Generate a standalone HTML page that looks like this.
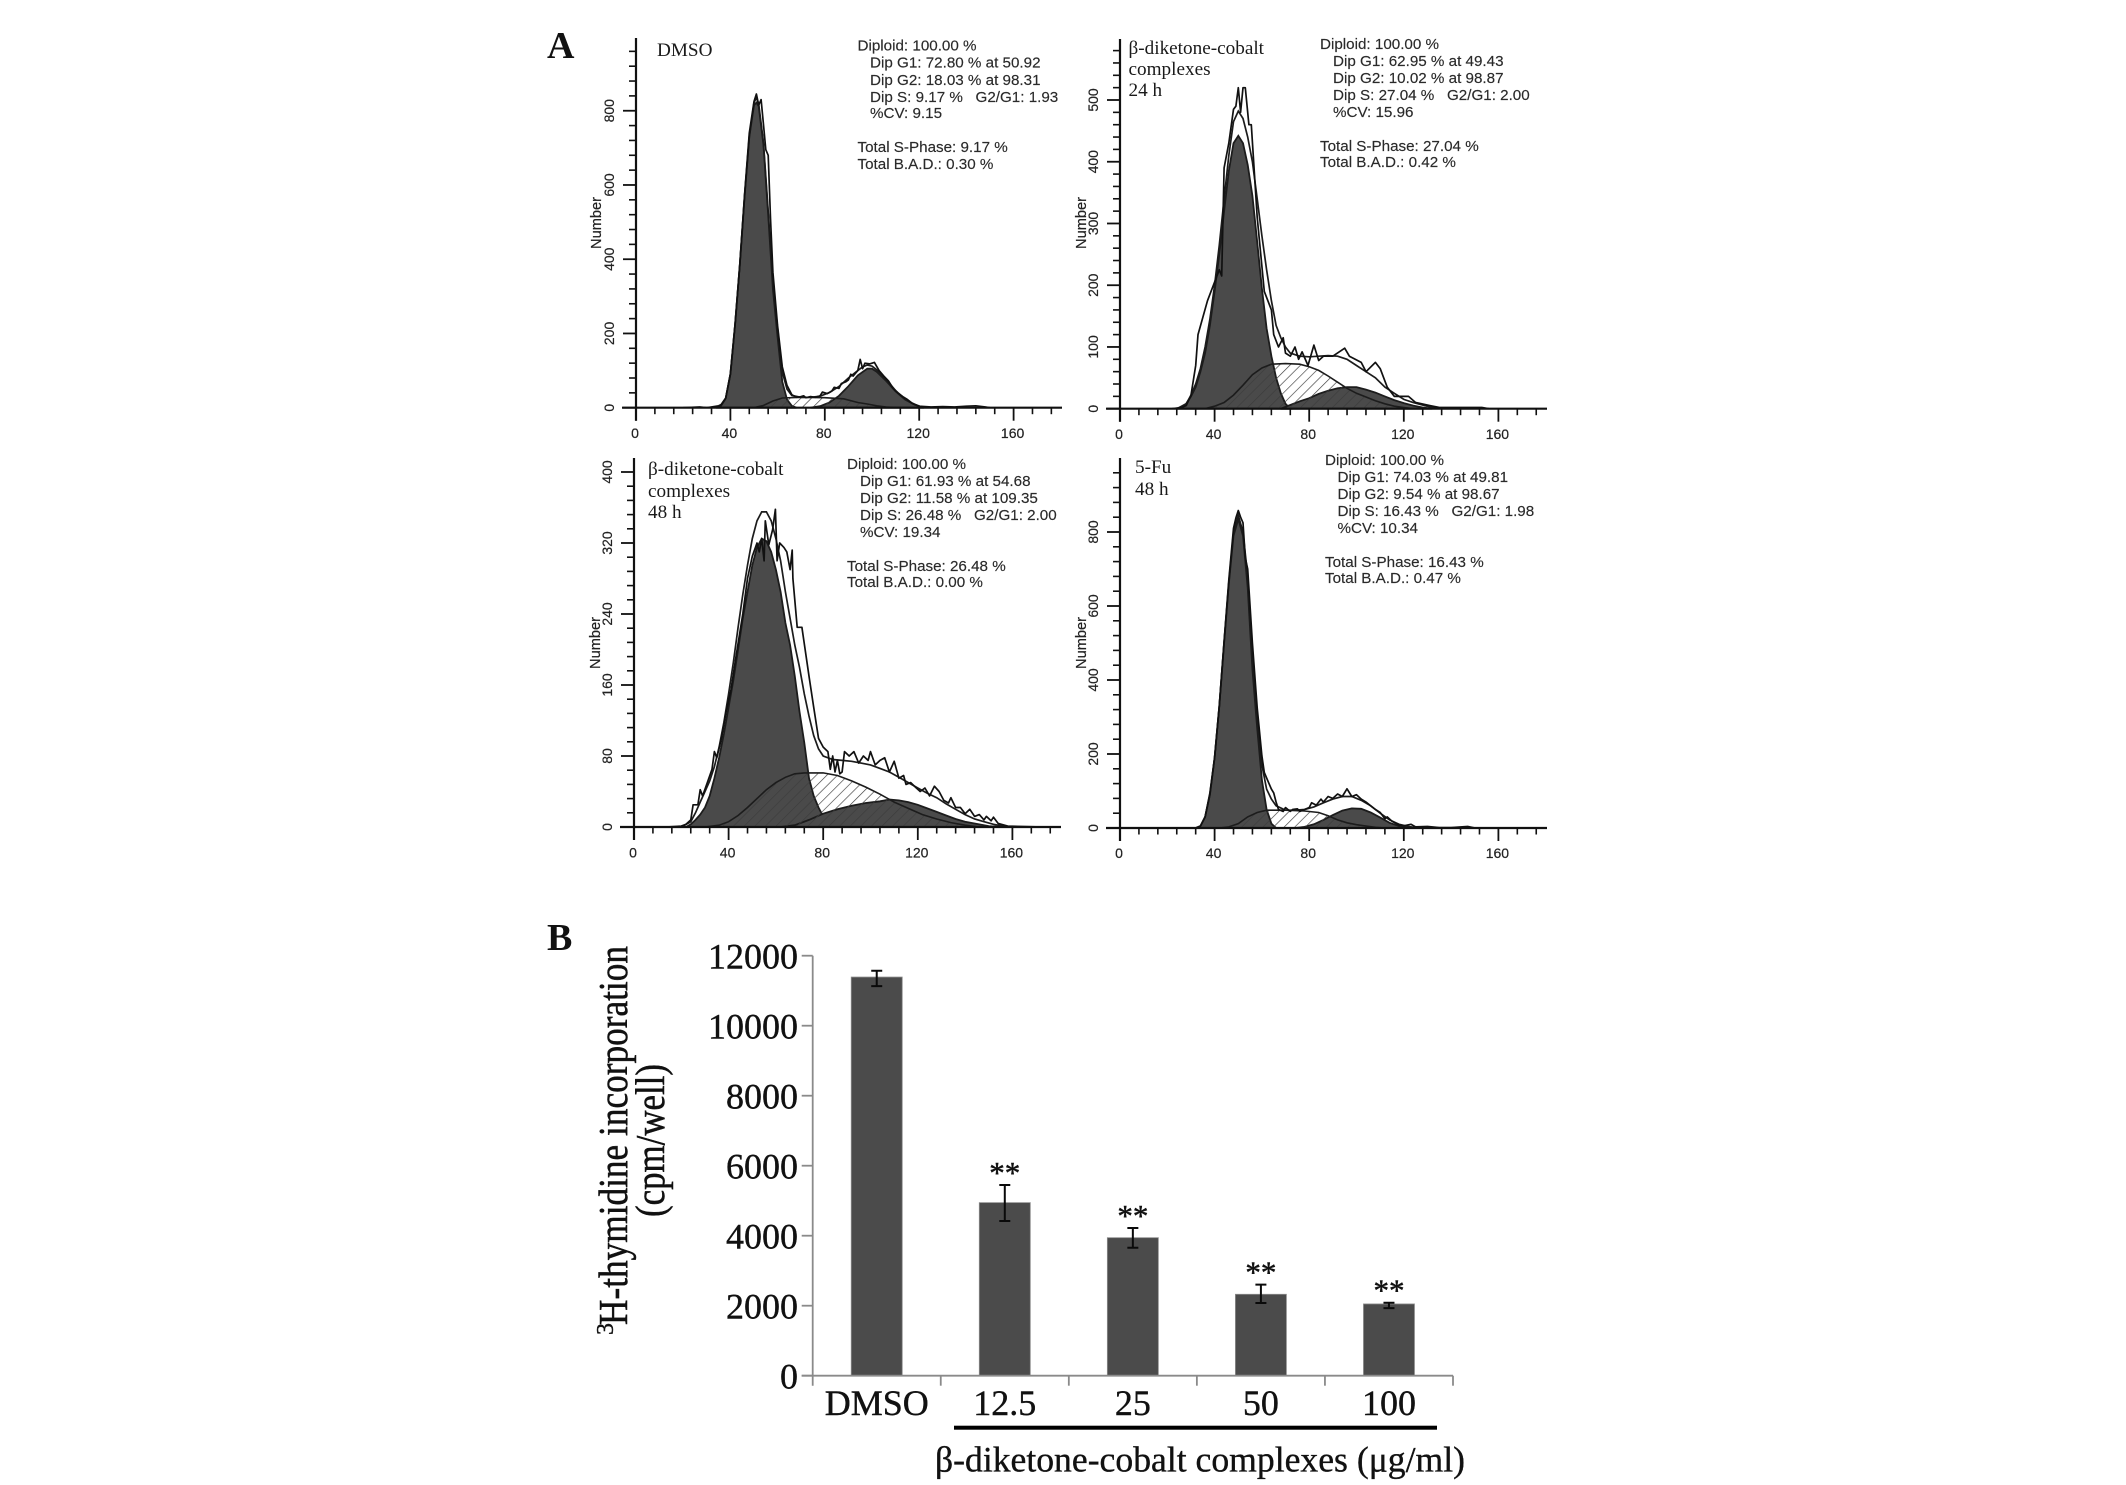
<!DOCTYPE html>
<html lang="en">
<head>
<meta charset="utf-8">
<title>Cell cycle histograms and 3H-thymidine incorporation</title>
<style>
html,body{margin:0;padding:0;background:#fff}
svg{display:block}
.st{font-family:"Liberation Sans",sans-serif;font-size:15.2px;fill:#2a2a2a;stroke:#2a2a2a;stroke-width:0.15}
.ti{font-family:"Liberation Serif",serif;font-size:19.2px;fill:#1a1a1a}
.big{font-family:"Liberation Serif",serif;fill:#111}
</style>
</head>
<body>
<svg id="figure" xmlns="http://www.w3.org/2000/svg" width="2126" height="1485" viewBox="0 0 2126 1485">
  <defs>
    <pattern id="hatch" width="7.5" height="7.5" patternUnits="userSpaceOnUse" patternTransform="rotate(45)">
      <line x1="0" y1="0" x2="0" y2="7.5" stroke="#3c3c3c" stroke-width="1.3"/>
    </pattern>
  </defs>
  <rect x="0" y="0" width="2126" height="1485" fill="#fff"/>

  <text class="big" x="547" y="58" font-size="38" font-weight="bold">A</text>
  <text class="big" x="547" y="950" font-size="38" font-weight="bold">B</text>

  <g id="p1"></g>
  <g id="p2"></g>
  <g id="p3"></g>
  <g id="p4"></g>

  <text class="ti" x="657" y="56">DMSO</text>
  <g class="st">
    <text x="857.5" y="50.5">Diploid: 100.00 %</text>
    <text x="870" y="67.5">Dip G1: 72.80 % at 50.92</text>
    <text x="870" y="85">Dip G2: 18.03 % at 98.31</text>
    <text x="870" y="102">Dip S: 9.17 % &#160; G2/G1: 1.93</text>
    <text x="870" y="118">%CV: 9.15</text>
    <text x="857.5" y="152">Total S-Phase: 9.17 %</text>
    <text x="857.5" y="169">Total B.A.D.: 0.30 %</text>
  </g>

  <g class="ti">
    <text x="1128.5" y="54">β-diketone-cobalt</text>
    <text x="1128.5" y="75">complexes</text>
    <text x="1128.5" y="96">24 h</text>
  </g>
  <g class="st">
    <text x="1320" y="49">Diploid: 100.00 %</text>
    <text x="1333" y="66">Dip G1: 62.95 % at 49.43</text>
    <text x="1333" y="83">Dip G2: 10.02 % at 98.87</text>
    <text x="1333" y="100">Dip S: 27.04 % &#160; G2/G1: 2.00</text>
    <text x="1333" y="117">%CV: 15.96</text>
    <text x="1320" y="151">Total S-Phase: 27.04 %</text>
    <text x="1320" y="167">Total B.A.D.: 0.42 %</text>
  </g>

  <g class="ti">
    <text x="648" y="475">β-diketone-cobalt</text>
    <text x="648" y="497">complexes</text>
    <text x="648" y="518">48 h</text>
  </g>
  <g class="st">
    <text x="847" y="469">Diploid: 100.00 %</text>
    <text x="860" y="486">Dip G1: 61.93 % at 54.68</text>
    <text x="860" y="503">Dip G2: 11.58 % at 109.35</text>
    <text x="860" y="520">Dip S: 26.48 % &#160; G2/G1: 2.00</text>
    <text x="860" y="537">%CV: 19.34</text>
    <text x="847" y="571">Total S-Phase: 26.48 %</text>
    <text x="847" y="587">Total B.A.D.: 0.00 %</text>
  </g>

  <g class="ti">
    <text x="1135" y="473">5-Fu</text>
    <text x="1135" y="495">48 h</text>
  </g>
  <g class="st">
    <text x="1325" y="465">Diploid: 100.00 %</text>
    <text x="1337.5" y="482">Dip G1: 74.03 % at 49.81</text>
    <text x="1337.5" y="499">Dip G2: 9.54 % at 98.67</text>
    <text x="1337.5" y="516">Dip S: 16.43 % &#160; G2/G1: 1.98</text>
    <text x="1337.5" y="533">%CV: 10.34</text>
    <text x="1325" y="567">Total S-Phase: 16.43 %</text>
    <text x="1325" y="583">Total B.A.D.: 0.47 %</text>
  </g>

  <g id="barChart"></g>

  <text class="big" font-size="24" stroke="#111" stroke-width="0.4" transform="translate(613,1335) rotate(-90)">3</text>
  <text class="big" font-size="41" stroke="#111" stroke-width="0.5" textLength="379" lengthAdjust="spacingAndGlyphs" transform="translate(627,1325) rotate(-90)">H-thymidine incorporation</text>
  <text class="big" font-size="41" stroke="#111" stroke-width="0.5" textLength="153" lengthAdjust="spacingAndGlyphs" transform="translate(664,1217) rotate(-90)">(cpm/well)</text>
  <rect x="954" y="1425.7" width="483" height="4" fill="#000"/>
  <text class="big" x="935" y="1471.7" font-size="36" stroke="#111" stroke-width="0.35" textLength="530" lengthAdjust="spacingAndGlyphs">β-diketone-cobalt complexes (μg/ml)</text>
</svg>

<script>
// Shared x ticks for the four DNA histograms
const xMajorTicks = [0, 40, 80, 120, 160];
const xMinorTicks = [8, 16, 24, 32, 48, 56, 64, 72, 88, 96, 104, 112, 128, 136, 144, 152, 168, 176];

// DMSO
const dmsoYMajor = [0, 200, 400, 600, 800];
const dmsoYMinor = [40, 80, 120, 160, 240, 280, 320, 360, 440, 480, 520, 560, 640, 680, 720, 760, 840, 880, 920, 960];
const dmsoG1X = [34, 36, 38, 40, 42, 44, 46, 48, 50, 51, 52, 54, 56, 58, 60, 62, 64, 66, 68];
const dmsoG1Y = [0, 5, 25, 90, 225, 385, 570, 730, 815, 822, 812, 710, 520, 320, 190, 70, 22, 5, 0];
const dmsoSX = [50, 54, 58, 62, 70, 80, 88, 94, 98, 102, 106, 110];
const dmsoSY = [0, 6, 18, 26, 28, 27, 24, 14, 10, 5, 2, 0];
const dmsoG2X = [74, 78, 82, 86, 90, 94, 98, 100, 102, 106, 110, 114, 118, 122];
const dmsoG2Y = [0, 4, 14, 32, 58, 87, 105, 105, 97, 72, 44, 22, 8, 0];
const dmsoFitX = [34, 36, 38, 40, 42, 44, 46, 48, 50, 51, 52, 54, 56, 58, 60, 62, 64, 66, 70, 74, 78, 82, 86, 90, 94, 96, 98, 100, 102, 106, 110, 114, 118, 122];
const dmsoFitY = [0, 5, 25, 90, 225, 385, 570, 730, 822, 835, 818, 716, 530, 335, 215, 96, 50, 33, 28, 28, 31, 41, 57, 80, 100, 110, 115, 112, 102, 76, 46, 23, 9, 0];
const dmsoHistX = [20, 27, 30, 33, 35, 36, 38, 40, 42, 44, 46, 48, 50, 51, 52, 53, 54, 55, 56, 57, 58, 60, 62, 64, 66, 68, 70, 71, 72, 74, 76, 78, 79, 81, 83, 84, 86, 87, 89, 90, 91, 92, 94, 95, 96, 97, 99, 101, 103, 105, 107, 109, 111, 113, 115, 117, 120, 125, 130, 135, 140, 144, 148, 150];
const dmsoHistY = [0, 2, 0, 3, 5, 8, 26, 92, 225, 385, 575, 740, 825, 845, 815, 830, 765, 695, 680, 510, 365, 220, 110, 60, 35, 28, 30, 32, 27, 30, 28, 32, 42, 38, 45, 55, 52, 65, 70, 75, 90, 85, 100, 130, 105, 120, 118, 122, 100, 85, 72, 52, 40, 30, 22, 12, 4, 2, 3, 2, 4, 5, 2, 0];

// Complexes 24 h
const c24YMajor = [0, 100, 200, 300, 400, 500];
const c24YMinor = [20, 40, 60, 80, 120, 140, 160, 180, 220, 240, 260, 280, 320, 340, 360, 380, 420, 440, 460, 480, 520, 540, 560, 580];
const c24G1X = [24, 26, 28, 30, 32, 34, 36, 38, 40, 42, 44, 46, 48, 50, 52, 54, 56, 58, 60, 62, 64, 66, 68, 70, 72];
const c24G1Y = [0, 3, 8, 20, 35, 60, 90, 135, 190, 250, 320, 385, 430, 442, 430, 395, 345, 270, 195, 130, 85, 50, 25, 8, 0];
const c24SX = [36, 40, 44, 48, 52, 56, 60, 64, 70, 76, 80, 84, 88, 92, 96, 100, 104, 108, 112, 116, 120, 124];
const c24SY = [0, 4, 10, 22, 38, 55, 66, 72, 73, 72, 68, 62, 53, 43, 33, 25, 19, 13, 8, 4, 2, 0];
const c24G2X = [68, 72, 76, 80, 84, 88, 92, 96, 100, 104, 108, 112, 116, 120, 124, 128, 132];
const c24G2Y = [0, 6, 12, 17, 24, 29, 33, 35, 35, 31, 26, 20, 14, 9, 5, 2, 0];
const c24FitX = [24, 28, 30, 32, 34, 36, 38, 40, 42, 44, 46, 48, 50, 52, 54, 56, 58, 60, 62, 64, 66, 68, 70, 72, 76, 80, 84, 88, 92, 96, 100, 104, 108, 112, 116, 120, 124, 128, 132, 136];
const c24FitY = [0, 8, 22, 40, 65, 100, 145, 200, 265, 340, 410, 465, 482, 470, 440, 400, 340, 280, 225, 175, 135, 115, 100, 90, 85, 84, 85, 86, 85, 80, 70, 60, 50, 35, 25, 15, 10, 6, 2, 0];
const c24HistX = [22, 26, 28, 30, 32, 33, 37, 40, 42, 43, 44, 46, 48, 49, 50, 51, 52, 53, 54.5, 55.5, 58, 61, 64, 65, 67, 69, 70, 72, 74, 75.5, 77, 79.5, 82, 84, 86, 90, 95, 97, 102, 104, 108, 110, 113, 116, 122, 125, 131, 135, 153, 156];
const c24HistY = [0, 2, 5, 22, 70, 120, 175, 205, 225, 215, 390, 430, 485, 490, 520, 480, 520, 520, 460, 460, 310, 190, 160, 120, 100, 115, 90, 85, 100, 80, 92, 70, 103, 78, 85, 85, 98, 85, 75, 60, 75, 65, 35, 20, 20, 10, 5, 2, 2, 0];

// Complexes 48 h
const c48YMajor = [0, 80, 160, 240, 320, 400];
const c48YMinor = [16, 32, 48, 64, 96, 112, 128, 144, 176, 192, 208, 224, 256, 272, 288, 304, 336, 352, 368, 384];
const c48G1X = [22, 24, 26, 28, 30, 32, 34, 36, 38, 40, 42, 44, 46, 48, 50, 52, 54, 56, 58, 60, 62, 64, 66, 68, 70, 72, 74, 76, 78, 80, 82, 84, 87];
const c48G1Y = [0, 3, 8, 14, 22, 35, 55, 78, 105, 135, 165, 200, 235, 265, 295, 315, 325, 322, 310, 290, 265, 230, 205, 170, 130, 95, 55, 35, 22, 12, 8, 4, 0];
const c48SX = [30, 36, 40, 44, 48, 52, 56, 60, 64, 68, 72, 80, 86, 92, 98, 104, 110, 116, 122, 128, 134, 140, 146];
const c48SY = [0, 2, 6, 13, 22, 32, 42, 50, 56, 60, 61, 61, 58, 52, 45, 37, 28, 21, 14, 9, 5, 2, 0];
const c48G2X = [62, 68, 74, 80, 86, 92, 98, 104, 108, 112, 116, 120, 124, 128, 132, 136, 140, 144, 150, 156];
const c48G2Y = [0, 2, 8, 15, 20, 24, 27, 29, 31, 30, 28, 25, 21, 17, 13, 9, 6, 4, 1, 0];
const c48FitX = [20, 24, 26, 28, 30, 32, 34, 36, 38, 40, 42, 44, 46, 48, 50, 52, 54, 56, 58, 60, 62, 64, 66, 68, 70, 72, 74, 76, 78, 80, 84, 88, 92, 96, 100, 104, 108, 112, 116, 120, 124, 128, 132, 136, 140, 144, 148, 152, 156, 160];
const c48FitY = [0, 6, 16, 28, 40, 52, 68, 90, 118, 150, 185, 225, 262, 295, 325, 345, 355, 355, 345, 325, 300, 265, 235, 205, 180, 150, 125, 103, 88, 80, 76, 75, 74, 72, 70, 66, 62, 56, 50, 44, 38, 33, 26, 20, 14, 9, 6, 3, 1, 0];
const c48HistX = [14, 20, 22, 24, 25, 27, 28, 29, 31, 33, 34, 35, 37, 39, 41, 43, 46, 48, 50, 52, 53, 54, 55, 55.5, 57, 58.6, 59.8, 60.5, 61.6, 63.4, 64.6, 66, 66.9, 67.2, 69, 71, 74, 76, 78, 80, 82, 83, 84, 85, 86, 87, 88, 89, 91, 93, 95, 97, 99, 100, 102, 104, 106, 108, 110, 112, 114, 115, 117, 119, 121, 123, 125, 127, 129, 131, 133, 134, 136, 138, 140, 142, 144, 146, 148, 149, 151, 152, 154, 158, 172];
const c48HistY = [0, 1, 3, 8, 25, 25, 42, 35, 50, 65, 85, 78, 100, 130, 155, 190, 240, 280, 305, 320, 310, 325, 300, 345, 318, 335, 358, 300, 320, 315, 310, 290, 312, 280, 225, 225, 170, 135, 100, 90, 85, 65, 80, 62, 75, 60, 62, 85, 80, 85, 72, 80, 75, 85, 70, 75, 78, 62, 74, 55, 58, 48, 50, 45, 40, 44, 35, 46, 40, 30, 27, 33, 22, 22, 15, 20, 12, 14, 8, 12, 7, 11, 4, 1, 0];

// 5-Fu 48 h
const fuYMajor = [0, 200, 400, 600, 800];
const fuYMinor = [40, 80, 120, 160, 240, 280, 320, 360, 440, 480, 520, 560, 640, 680, 720, 760, 840, 880, 920, 960];
const fuG1X = [32, 34, 36, 38, 40, 42, 44, 46, 48, 50, 52, 54, 56, 58, 60, 62, 64, 66];
const fuG1Y = [0, 5, 30, 90, 190, 330, 500, 660, 790, 835, 790, 650, 430, 270, 130, 50, 12, 0];
const fuSX = [42, 46, 50, 54, 58, 62, 70, 78, 84, 88, 92, 96, 100, 104, 108, 112];
const fuSY = [0, 3, 12, 30, 42, 48, 48, 46, 42, 33, 22, 14, 9, 5, 2, 0];
const fuG2X = [74, 78, 82, 86, 90, 94, 98, 102, 106, 110, 114, 118, 122];
const fuG2Y = [0, 3, 10, 22, 35, 47, 53, 52, 42, 28, 14, 5, 0];
const fuFitX = [32, 34, 36, 38, 40, 42, 44, 46, 48, 50, 52, 54, 56, 58, 60, 62, 64, 66, 70, 74, 78, 82, 86, 90, 94, 98, 102, 106, 110, 114, 118, 122, 126];
const fuFitY = [0, 5, 30, 90, 190, 330, 502, 663, 800, 845, 800, 680, 460, 300, 170, 105, 78, 60, 48, 48, 50, 57, 68, 78, 85, 85, 75, 60, 40, 22, 10, 4, 0];
const fuHistX = [32, 34, 36, 38, 40, 42, 44, 46, 48, 49, 50, 51, 52, 53, 54, 56, 58, 60, 61, 63, 64, 65, 66, 67, 69, 70, 71, 72, 73, 75, 76, 78, 80, 81, 83, 85, 86, 88, 90, 92, 94, 96, 98, 100, 102, 104, 106, 108, 110, 112, 113, 115, 118, 120, 123, 125, 130, 135, 140, 147, 150];
const fuHistY = [0, 5, 30, 95, 190, 330, 505, 670, 810, 838, 858, 840, 825, 730, 700, 500, 325, 195, 150, 120, 105, 95, 70, 50, 45, 55, 50, 45, 50, 52, 45, 50, 55, 68, 62, 78, 70, 85, 80, 92, 85, 106, 85, 90, 78, 70, 60, 50, 42, 25, 30, 18, 8, 6, 10, 3, 4, 1, 1, 4, 0];

// Bar chart
const barCategories = ['DMSO', '12.5', '25', '50', '100'];
const barValues = [11390, 4945, 3943, 2326, 2050];
const barErrHigh = [11570, 5449, 4220, 2603, 2086];
const barErrLow = [11130, 4420, 3657, 2077, 1931];
const barMarks = ['', '**', '**', '**', '**'];
const barYTicks = [0, 2000, 4000, 6000, 8000, 10000, 12000];

const NS = 'http://www.w3.org/2000/svg';
function make(parent, tag, attrs, text) {
  const el = document.createElementNS(NS, tag);
  for (const k in attrs) el.setAttribute(k, attrs[k]);
  if (text !== undefined) el.textContent = text;
  parent.appendChild(el);
  return el;
}

function linePath(xs, ys, sx, sy) {
  return xs.map((v, i) => (i ? 'L' : 'M') + sx(v).toFixed(1) + ' ' + sy(ys[i]).toFixed(1)).join(' ');
}

function drawHistogram(g, cfg) {
  const sx = v => cfg.x0 + v * cfg.pxPerX;
  const sy = v => cfg.y0 - v * cfg.pxPerY;
  const base = cfg.y0;
  const area = (xs, ys) => linePath(xs, ys, sx, sy) + ' L' + sx(xs[xs.length - 1]).toFixed(1) + ' ' + base + ' L' + sx(xs[0]).toFixed(1) + ' ' + base + ' Z';

  const g1 = make(g, 'path', { d: area(cfg.g1x, cfg.g1y), fill: '#4a4a4a', stroke: '#1c1c1c', 'stroke-width': 1.8 });
  
  

  const g2 = make(g, 'path', { d: area(cfg.g2x, cfg.g2y), fill: '#4a4a4a', stroke: '#1c1c1c', 'stroke-width': 1.8 });
  
  

  const s = make(g, 'path', { d: area(cfg.sx, cfg.sy), fill: 'url(#hatch)', stroke: 'none' });
  
  

  const sLine = make(g, 'path', { d: linePath(cfg.sx, cfg.sy, sx, sy), fill: 'none', stroke: '#1c1c1c', 'stroke-width': 1.6 });
  
  

  const fit = make(g, 'path', { d: linePath(cfg.fitx, cfg.fity, sx, sy), fill: 'none', stroke: '#1c1c1c', 'stroke-width': 1.7 });
  
  

  const hist = make(g, 'path', { d: linePath(cfg.hx, cfg.hy, sx, sy), fill: 'none', stroke: '#111', 'stroke-width': 1.7, 'stroke-linejoin': 'round' });
  
  

  const xAxis = make(g, 'line', { x1: cfg.x0 - 14, x2: cfg.xEnd, y1: base, y2: base, stroke: '#111', 'stroke-width': 2.2 });
  
  

  const yAxis = make(g, 'line', { x1: cfg.x0, x2: cfg.x0, y1: cfg.yTop, y2: base + 13, stroke: '#111', 'stroke-width': 2.2 });
  
  

  xMajorTicks.forEach(v => {
    const t = make(g, 'line', { x1: sx(v), x2: sx(v), y1: base, y2: base + 13, stroke: '#111', 'stroke-width': 1.8 });
    
    
    const lab = make(g, 'text', { x: sx(v) - 1, y: cfg.xLabelY, 'text-anchor': 'middle', 'font-family': '"Liberation Sans", sans-serif', 'font-size': 14, fill: '#222', stroke: '#222', 'stroke-width': 0.2 }, String(v));
    
    
  });
  xMinorTicks.forEach(v => {
    const t = make(g, 'line', { x1: sx(v), x2: sx(v), y1: base, y2: base + 6.5, stroke: '#111', 'stroke-width': 1.6 });
    
    
  });
  cfg.yMajor.forEach(v => {
    const t = make(g, 'line', { x1: cfg.x0 - 13, x2: cfg.x0, y1: sy(v), y2: sy(v), stroke: '#111', 'stroke-width': 1.8 });
    
    
    const lab = make(g, 'text', { transform: 'translate(' + cfg.yLabelX + ',' + sy(v) + ') rotate(-90)', 'text-anchor': 'middle', 'font-family': '"Liberation Sans", sans-serif', 'font-size': 14, fill: '#222', stroke: '#222', 'stroke-width': 0.2 }, String(v));
    
    
  });
  cfg.yMinor.forEach(v => {
    const t = make(g, 'line', { x1: cfg.x0 - 7, x2: cfg.x0, y1: sy(v), y2: sy(v), stroke: '#111', 'stroke-width': 1.6 });
    
    
  });
  const yTitle = make(g, 'text', { transform: 'translate(' + cfg.yTitleX + ',' + cfg.yTitleY + ') rotate(-90)', 'text-anchor': 'middle', 'font-family': '"Liberation Sans", sans-serif', 'font-size': 14.6, fill: '#222', stroke: '#222', 'stroke-width': 0.2 }, 'Number');
  
  
}

drawHistogram(document.getElementById('p1'), {
  x0: 636, xEnd: 1062, y0: 407.7, yTop: 38, pxPerX: 2.36, pxPerY: 0.3712,
  yMajor: dmsoYMajor, yMinor: dmsoYMinor,
  g1x: dmsoG1X, g1y: dmsoG1Y, sx: dmsoSX, sy: dmsoSY, g2x: dmsoG2X, g2y: dmsoG2Y,
  fitx: dmsoFitX, fity: dmsoFitY, hx: dmsoHistX, hy: dmsoHistY,
  xLabelY: 438, yLabelX: 614, yTitleX: 601, yTitleY: 223
});
drawHistogram(document.getElementById('p2'), {
  x0: 1120, xEnd: 1547, y0: 408.7, yTop: 39, pxPerX: 2.365, pxPerY: 0.6174,
  yMajor: c24YMajor, yMinor: c24YMinor,
  g1x: c24G1X, g1y: c24G1Y, sx: c24SX, sy: c24SY, g2x: c24G2X, g2y: c24G2Y,
  fitx: c24FitX, fity: c24FitY, hx: c24HistX, hy: c24HistY,
  xLabelY: 439, yLabelX: 1098, yTitleX: 1086, yTitleY: 223
});
drawHistogram(document.getElementById('p3'), {
  x0: 634, xEnd: 1061, y0: 827, yTop: 458, pxPerX: 2.365, pxPerY: 0.8875,
  yMajor: c48YMajor, yMinor: c48YMinor,
  g1x: c48G1X, g1y: c48G1Y, sx: c48SX, sy: c48SY, g2x: c48G2X, g2y: c48G2Y,
  fitx: c48FitX, fity: c48FitY, hx: c48HistX, hy: c48HistY,
  xLabelY: 857.5, yLabelX: 612, yTitleX: 600, yTitleY: 643
});
drawHistogram(document.getElementById('p4'), {
  x0: 1120, xEnd: 1547, y0: 828, yTop: 458, pxPerX: 2.365, pxPerY: 0.37,
  yMajor: fuYMajor, yMinor: fuYMinor,
  g1x: fuG1X, g1y: fuG1Y, sx: fuSX, sy: fuSY, g2x: fuG2X, g2y: fuG2Y,
  fitx: fuFitX, fity: fuFitY, hx: fuHistX, hy: fuHistY,
  xLabelY: 858, yLabelX: 1098, yTitleX: 1086, yTitleY: 643
});

(function drawBars() {
  const g = document.getElementById('barChart');
  const left = 812.7, right = 1453, y0 = 1375.7, pxPerUnit = 0.035;
  const band = (right - left) / barCategories.length;
  const barW = 51;
  const sy = v => y0 - v * pxPerUnit;
  const serif = '"Liberation Serif", serif';

  barCategories.forEach((c, i) => {
    const cx = left + band * (i + 0.5);
    const bar = make(g, 'rect', { x: cx - barW / 2, y: sy(barValues[i]), width: barW, height: y0 - sy(barValues[i]), fill: '#4b4b4b', stroke: '#8c8c8c', 'stroke-width': 0.8 });
    
    

    const err = make(g, 'path', {
      d: 'M' + (cx - 5.5) + ' ' + sy(barErrHigh[i]) + ' H' + (cx + 5.5) + ' M' + cx + ' ' + sy(barErrHigh[i]) + ' V' + sy(barErrLow[i]) + ' M' + (cx - 5.5) + ' ' + sy(barErrLow[i]) + ' H' + (cx + 5.5),
      stroke: '#0a0a0a', 'stroke-width': 2, fill: 'none'
    });
    
    

    if (barMarks[i]) {
      const star = make(g, 'text', { x: cx, y: sy(barErrHigh[i]) - 2, 'text-anchor': 'middle', 'font-family': serif, 'font-size': 31, fill: '#111', stroke: '#111', 'stroke-width': 0.5 }, barMarks[i]);
      
      
    }

    const lab = make(g, 'text', { x: cx, y: 1415, 'text-anchor': 'middle', 'font-family': serif, 'font-size': 36, fill: '#111', stroke: '#111', 'stroke-width': 0.4 }, c);
    
    
  });

  const xAxis = make(g, 'line', { x1: left - 11, x2: right, y1: y0, y2: y0, stroke: '#8a8a8a', 'stroke-width': 1.8 });
  
  

  const yAxis = make(g, 'line', { x1: left, x2: left, y1: sy(12000), y2: y0 + 10, stroke: '#8a8a8a', 'stroke-width': 1.8 });
  
  

  for (let i = 1; i <= barCategories.length; i++) {
    const t = make(g, 'line', { x1: left + band * i, x2: left + band * i, y1: y0, y2: y0 + 10, stroke: '#8a8a8a', 'stroke-width': 1.8 });
    
    
  }

  barYTicks.forEach(v => {
    const t = make(g, 'line', { x1: left - 11, x2: left, y1: sy(v), y2: sy(v), stroke: '#8a8a8a', 'stroke-width': 1.8 });
    
    
    const lab = make(g, 'text', { x: 798, y: sy(v) + 12.6, 'text-anchor': 'end', 'font-family': serif, 'font-size': 36, fill: '#111', stroke: '#111', 'stroke-width': 0.4 }, String(v));
    
    
  });
})();
</script>
</body>
</html>
